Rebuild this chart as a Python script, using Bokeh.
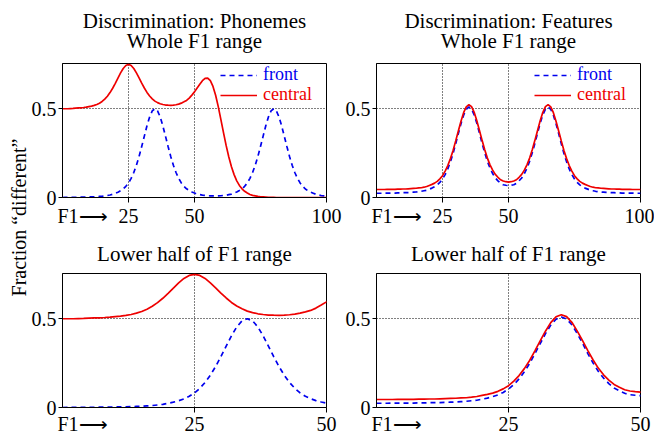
import math
from bokeh.plotting import figure
from bokeh.models import (Range1d, FixedTicker, Label, Legend, LegendItem,
                          ColumnDataSource, LinearAxis, Title)
from bokeh.layouts import row, column
from bokeh.embed import file_html
from bokeh.resources import INLINE

# ---------------- data ----------------
F1 = list(range(0, 101))

phon_front = [
    0.000, 0.001, 0.001, 0.001, 0.001, 0.001, 0.001, 0.002, 0.002, 0.002,
    0.003, 0.003, 0.004, 0.005, 0.006, 0.007, 0.009, 0.011, 0.014, 0.018,
    0.024, 0.030, 0.038, 0.048, 0.063, 0.082, 0.108, 0.141, 0.182, 0.231,
    0.287, 0.346, 0.404, 0.454, 0.488, 0.500, 0.488, 0.454, 0.404, 0.346,
    0.287, 0.231, 0.182, 0.141, 0.108, 0.082, 0.063, 0.049, 0.039, 0.031,
    0.025, 0.019, 0.016, 0.013, 0.012, 0.010, 0.0095, 0.009, 0.009, 0.0095,
    0.010, 0.0115, 0.013, 0.016, 0.019, 0.025, 0.031, 0.039, 0.049, 0.063,
    0.082, 0.108, 0.141, 0.182, 0.231, 0.287, 0.346, 0.404, 0.454, 0.488,
    0.500, 0.488, 0.454, 0.404, 0.346, 0.287, 0.231, 0.182, 0.141, 0.108,
    0.082, 0.063, 0.048, 0.038, 0.030, 0.024, 0.018, 0.014, 0.011, 0.009,
    0.007,
]

phon_central = [
    0.500, 0.500, 0.500, 0.501, 0.502, 0.5035, 0.5045, 0.5055, 0.507, 0.509,
    0.512, 0.515, 0.519, 0.524, 0.5315, 0.541, 0.554, 0.5705, 0.591, 0.6155,
    0.6435, 0.673, 0.702, 0.727, 0.744, 0.750, 0.744, 0.727, 0.702, 0.674,
    0.644, 0.617, 0.592, 0.572, 0.556, 0.543, 0.5345, 0.528, 0.524, 0.521,
    0.520, 0.5195, 0.5205, 0.5225, 0.526, 0.5315, 0.539, 0.547, 0.560, 0.577,
    0.595, 0.617, 0.638, 0.658, 0.671, 0.673, 0.658, 0.626, 0.576, 0.512,
    0.439, 0.364, 0.292, 0.228, 0.173, 0.129, 0.094, 0.068, 0.049, 0.035,
    0.025, 0.017, 0.012, 0.009, 0.006, 0.004, 0.003, 0.002, 0.001, 0.001,
    0.001, 0.000, 0.000, 0.000, 0.000, 0.000, 0.000, 0.000, 0.000, 0.000,
    0.000, 0.000, 0.000, 0.000, 0.000, 0.000, 0.000, 0.000, 0.000, 0.000,
    0.000,
]

feat_front = [
    0.024, 0.024, 0.024, 0.025, 0.025, 0.025, 0.025, 0.025, 0.026, 0.026,
    0.027, 0.027, 0.028, 0.029, 0.030, 0.031, 0.033, 0.035, 0.038, 0.041,
    0.047, 0.053, 0.061, 0.071, 0.085, 0.104, 0.129, 0.161, 0.201, 0.248,
    0.303, 0.360, 0.416, 0.464, 0.497, 0.510, 0.498, 0.466, 0.418, 0.363,
    0.305, 0.252, 0.204, 0.166, 0.135, 0.110, 0.094, 0.080, 0.072, 0.069,
    0.067, 0.069, 0.072, 0.080, 0.094, 0.110, 0.135, 0.166, 0.204, 0.252,
    0.305, 0.363, 0.418, 0.466, 0.498, 0.510, 0.497, 0.464, 0.416, 0.360,
    0.303, 0.248, 0.201, 0.161, 0.129, 0.104, 0.085, 0.071, 0.061, 0.053,
    0.047, 0.041, 0.038, 0.035, 0.033, 0.031, 0.030, 0.029, 0.028, 0.027,
    0.027, 0.026, 0.026, 0.025, 0.025, 0.025, 0.025, 0.025, 0.024, 0.024,
    0.024,
]

feat_central = [
    0.045, 0.045, 0.045, 0.045, 0.046, 0.046, 0.046, 0.046, 0.047, 0.047,
    0.048, 0.048, 0.049, 0.050, 0.051, 0.052, 0.054, 0.055, 0.058, 0.062,
    0.068, 0.074, 0.081, 0.091, 0.105, 0.123, 0.149, 0.180, 0.219, 0.265,
    0.319, 0.375, 0.430, 0.478, 0.511, 0.523, 0.512, 0.480, 0.432, 0.378,
    0.322, 0.269, 0.222, 0.184, 0.154, 0.130, 0.114, 0.100, 0.093, 0.089,
    0.087, 0.089, 0.093, 0.100, 0.114, 0.130, 0.154, 0.184, 0.222, 0.269,
    0.322, 0.378, 0.432, 0.480, 0.512, 0.523, 0.511, 0.478, 0.430, 0.375,
    0.319, 0.265, 0.219, 0.180, 0.149, 0.123, 0.105, 0.091, 0.081, 0.074,
    0.068, 0.062, 0.058, 0.055, 0.054, 0.052, 0.051, 0.050, 0.049, 0.048,
    0.048, 0.047, 0.047, 0.046, 0.046, 0.046, 0.046, 0.045, 0.045, 0.045,
    0.045,
]

titles = [
    ("Discrimination: Phonemes", "Whole F1 range"),
    ("Discrimination: Features", "Whole F1 range"),
    ("Lower half of F1 range",),
    ("Lower half of F1 range",),
]
series_names = ["front", "central"]
x_ticks_whole = [25, 50, 100]
x_ticks_lower = [25, 50]
y_ticks = [0, 0.5]
y_tick_labels = {0: "0", 0.5: "0.5"}
x_start_label = "F1\u27f6"
y_title = "Fraction \u201cdifferent\u201d"

# ---------------- styling / layout ----------------
FONT = "Liberation Serif"
FS = "20px"
TITLE_FS = "21px"
LEGEND_FS = "18px"
BLUE = "#0000ee"
RED = "#ee0000"
LABEL_SHIFT_PX = 20      # centre of the "F1->" label, right of the frame's left edge
FRAME_W = 264


def panel(title_lines, title_standoffs, front, central, xmax, xticks, width, height,
          bl, br, bt, bb, x_label_standoff, legend):
    p = figure(width=width, height=height, title=None,
               x_range=Range1d(0, xmax), y_range=Range1d(0, 0.755),
               output_backend="svg", toolbar_location=None,
               min_border_left=bl, min_border_right=br,
               min_border_top=bt, min_border_bottom=bb)
    # titles: the one added first sits nearest the frame
    for txt, so in zip(reversed(title_lines), title_standoffs):
        t = Title(text=txt, align="center", text_font=FONT, text_font_size=TITLE_FS,
                  text_font_style="normal", text_color="black", standoff=so)
        p.add_layout(t, "above")

    # axis A: axis line + small tick marks (as minor ticks, so no labels)
    p.xaxis.ticker = FixedTicker(ticks=[], minor_ticks=xticks)
    p.xaxis.major_tick_out = 5
    p.xaxis.major_tick_in = 0
    p.xaxis.minor_tick_out = 5
    p.xaxis.minor_tick_in = 0
    p.xaxis.minor_tick_line_color = "black"
    p.xaxis.major_label_standoff = 0
    p.xaxis.axis_line_color = "black"
    p.xgrid.ticker = FixedTicker(ticks=xticks)

    # axis B: tick labels, including the "F1->" label near the left edge
    start_pos = LABEL_SHIFT_PX * xmax / FRAME_W
    lab_ticks = [start_pos] + list(xticks)
    ax = LinearAxis(ticker=FixedTicker(ticks=lab_ticks),
                    major_label_overrides={start_pos: x_start_label},
                    axis_line_color=None, major_tick_line_color=None,
                    minor_tick_line_color=None, major_tick_out=0, major_tick_in=0,
                    major_label_standoff=x_label_standoff,
                    major_label_text_font=FONT, major_label_text_font_size=FS,
                    major_label_text_color="black")
    p.add_layout(ax, "below")

    p.yaxis.ticker = FixedTicker(ticks=y_ticks)
    p.yaxis.major_label_overrides = y_tick_labels
    p.yaxis.major_label_text_font = FONT
    p.yaxis.major_label_text_font_size = FS
    p.yaxis.major_label_text_color = "black"
    p.yaxis.axis_line_color = "black"
    p.yaxis.major_tick_line_color = "black"
    p.yaxis.major_tick_in = 0
    p.yaxis.major_tick_out = 4
    p.yaxis.minor_tick_line_color = None
    p.yaxis.major_label_standoff = 2

    for g in (p.xgrid, p.ygrid):
        g.grid_line_color = "black"
        g.grid_line_dash = "1 2"
        g.grid_line_width = 1
    p.outline_line_color = "black"
    p.outline_line_alpha = 1
    p.outline_line_width = 1

    src = ColumnDataSource(dict(x=F1, front=front, central=central))
    rf = p.line("x", "front", source=src, line_color=BLUE, line_width=1.7, line_dash="5 4")
    rc = p.line("x", "central", source=src, line_color=RED, line_width=1.7)

    if legend:
        for name, r, col, yy in ((series_names[0], rf, BLUE, 112),
                                 (series_names[1], rc, RED, 92)):
            lg = Legend(items=[LegendItem(label=name, renderers=[r])], location=(158, yy))
            lg.label_text_font = FONT
            lg.label_text_font_size = LEGEND_FS
            lg.label_text_color = col
            lg.glyph_width = 37
            lg.glyph_height = 16
            lg.label_height = 16
            lg.label_standoff = 6
            lg.padding = 0
            lg.margin = 0
            lg.spacing = 0
            lg.border_line_alpha = 0
            lg.background_fill_alpha = 0
            p.add_layout(lg)
    return p


TOP_H, BOT_H = 230, 207
TOP_TITLE_SO = (21, -33)
BOT_TITLE_SO = (15,)
p1 = panel(titles[0], TOP_TITLE_SO, phon_front, phon_central, 100, x_ticks_whole, 314, TOP_H, 34, 16, 63, 33, 2, True)
p2 = panel(titles[1], TOP_TITLE_SO, feat_front, feat_central, 100, x_ticks_whole, 312, TOP_H, 34, 14, 63, 33, 2, True)
p3 = panel(titles[2], BOT_TITLE_SO, phon_front, phon_central, 50, x_ticks_lower, 314, BOT_H, 34, 16, 43, 30, 0, False)
p4 = panel(titles[3], BOT_TITLE_SO, feat_front, feat_central, 50, x_ticks_lower, 312, BOT_H, 34, 14, 43, 30, 0, False)

strip = figure(width=28, height=TOP_H + BOT_H, x_range=Range1d(0, 1), y_range=Range1d(0, 1),
               x_axis_type=None, y_axis_type=None, output_backend="svg", toolbar_location=None,
               min_border_left=0, min_border_right=0, min_border_top=0, min_border_bottom=0)
strip.outline_line_color = None
strip.grid.visible = False
strip.add_layout(Label(x=18, y=220, x_units="screen", y_units="screen", text=y_title,
                       angle=math.pi / 2, text_font=FONT, text_font_size=FS,
                       text_align="center", text_baseline="middle", text_color="black"))

layout = row(strip, column(row(p1, p2), row(p3, p4)))

open("out.html", "w").write(file_html(layout, INLINE))
